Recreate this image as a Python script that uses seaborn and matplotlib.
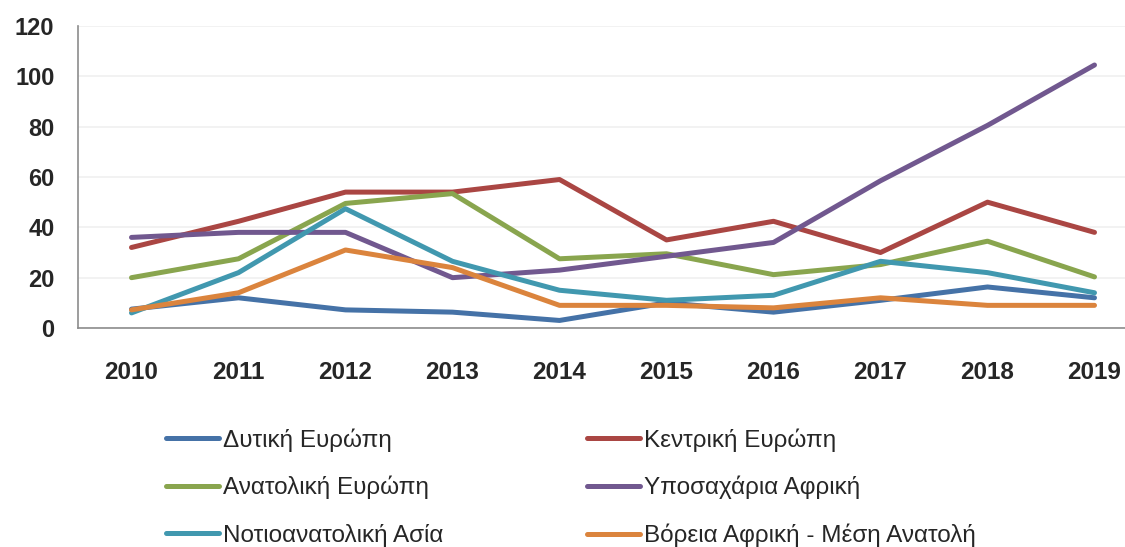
import pandas as pd
import matplotlib
matplotlib.use("Agg")
import matplotlib.pyplot as plt
import seaborn as sns

years = ["2010", "2011", "2012", "2013", "2014", "2015", "2016", "2017", "2018", "2019"]
regions = [
    "Δυτική Ευρώπη",
    "Κεντρική Ευρώπη",
    "Ανατολική Ευρώπη",
    "Υποσαχάρια Αφρική",
    "Νοτιοανατολική Ασία",
    "Βόρεια Αφρική - Μέση Ανατολή",
]
west_europe = [7.5, 12, 7.2, 6.3, 3, 10, 6.3, 11, 16.3, 12]
central_europe = [32, 42.4, 54, 54, 59, 35, 42.4, 30, 50, 38]
east_europe = [20, 27.5, 49.5, 53.4, 27.5, 29.5, 21.2, 25.2, 34.5, 20.3]
subsaharan = [36, 38, 38, 20, 23, 28.5, 34, 58.5, 80.5, 104.5]
se_asia = [6, 22, 47.4, 26.5, 15, 11, 13, 26.5, 22, 14]
mena = [7.2, 14, 31, 24, 9, 9, 8, 12, 9, 9]
colors = ["#4572A7", "#AA4643", "#89A54E", "#71588F", "#4198AF", "#DB843D"]

series = [west_europe, central_europe, east_europe, subsaharan, se_asia, mena]
rows = []
for name, vals in zip(regions, series):
    for i, v in enumerate(vals):
        rows.append({"idx": i, "value": v, "region": name})
df = pd.DataFrame(rows)

sns.set_style("white")
plt.rcParams["font.family"] = ["Liberation Sans", "DejaVu Sans"]

fig = plt.figure(figsize=(11.25, 5.47), dpi=100)
ax = fig.add_axes([78 / 1125, 1 - 328 / 547, 1070 / 1125, 302 / 547])

sns.lineplot(data=df, x="idx", y="value", hue="region", hue_order=regions,
             palette=colors, linewidth=3.6, ax=ax, legend=False,
             solid_capstyle="round", solid_joinstyle="round")

ax.set_xlim(-0.5, 9.5)
ax.set_ylim(0, 120)
ax.set_yticks(range(0, 121, 20))
ax.set_xticks(range(10))
ax.set_xticklabels(years)
ax.set_xticks([i - 0.5 for i in range(11)], minor=True)
ax.set_xlabel("")
ax.set_ylabel("")
ax.grid(axis="y", color="#F0F0F0", linewidth=1.2)
ax.set_axisbelow(True)
for s in ["top", "right"]:
    ax.spines[s].set_visible(False)
for s in ["left", "bottom"]:
    ax.spines[s].set_color("#8C8C8C")
    ax.spines[s].set_linewidth(1.2)
ax.tick_params(axis="x", which="major", length=0, pad=24, labelsize=17.5)
ax.tick_params(axis="x", which="minor", length=6, color="#8C8C8C", width=1.2)
ax.tick_params(axis="y", length=6, color="#8C8C8C", width=1.2, pad=11, labelsize=17)
for lbl in ax.get_xticklabels() + ax.get_yticklabels():
    lbl.set_fontweight("bold")

# legend: 2 columns, filled column-wise
handles = []
order = [0, 2, 4, 1, 3, 5]
for k in order:
    h, = ax.plot([], [], color=colors[k], linewidth=3.6, solid_capstyle="round")
    handles.append((h, regions[k]))
fig.legend([h for h, _ in handles], [l for _, l in handles], ncol=2,
           loc="upper left", bbox_to_anchor=(166 / 1125, 1 - 428 / 547),
           frameon=False, fontsize=17.5, handlelength=2.2, handletextpad=0.15,
           columnspacing=5.9, labelspacing=1.0, borderpad=0, borderaxespad=0)

fig.savefig("out.png", dpi=100)
